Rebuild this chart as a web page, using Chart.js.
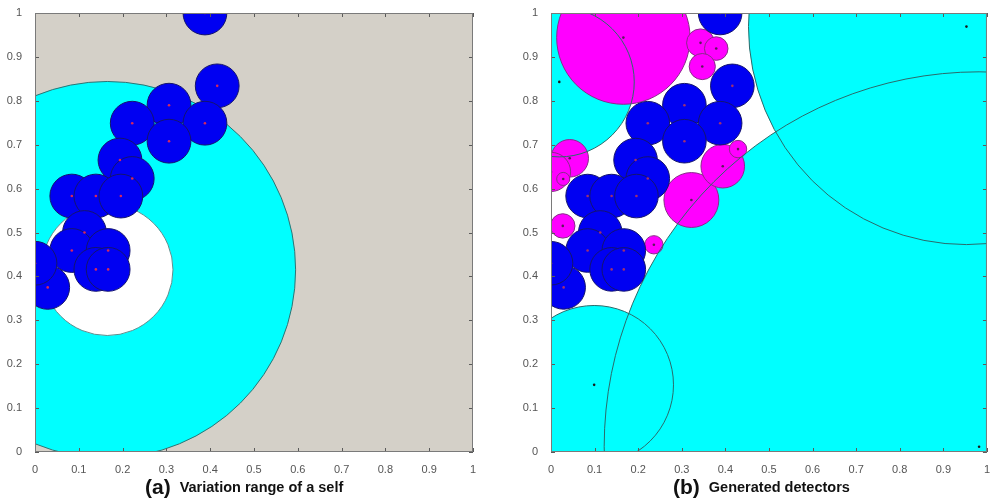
<!DOCTYPE html>
<html>
<head>
<meta charset="utf-8">
<script src="https://cdn.jsdelivr.net/npm/chart.js@4.4.1/dist/chart.umd.min.js"></script>
<style>
  body { margin: 0; background: #fff; width: 993px; height: 500px; position: relative; overflow: hidden;
         font-family: 'Liberation Sans', Arial, sans-serif; }
  .wrap { position: absolute; top: 0; height: 480px; }
  #wrapA { left: 0; width: 500px; }
  #wrapB { left: 500px; width: 493px; }
  .cap { position: absolute; top: 475px; font-weight: bold; font-size: 14.5px; color: #111; white-space: nowrap; }
  .cap b { font-size: 21px; margin-right: 9px; vertical-align: -2px; }
</style>
</head>
<body>
<div class="wrap" id="wrapA"><canvas id="chartA"></canvas></div>
<div class="wrap" id="wrapB"><canvas id="chartB"></canvas></div>
<div class="cap" style="left:145px"><b>(a)</b>Variation range of a self</div>
<div class="cap" style="left:673px"><b>(b)</b>Generated detectors</div>
<script>
// axis ticks (both panels)
const tickValues = [0, 0.1, 0.2, 0.3, 0.4, 0.5, 0.6, 0.7, 0.8, 0.9, 1];
const tickLabels = ['0', '0.1', '0.2', '0.3', '0.4', '0.5', '0.6', '0.7', '0.8', '0.9', '1'];

// self samples (blue), same in both panels
const selfX = [0.388, 0.416, 0.306, 0.222, 0.388, 0.306, 0.194, 0.222, 0.084, 0.139, 0.196, 0.113, 0.084, 0.167, 0.139, 0.167, 0.029, 0.0];
const selfY = [1.0, 0.834, 0.79, 0.749, 0.749, 0.708, 0.665, 0.623, 0.583, 0.583, 0.583, 0.50, 0.459, 0.459, 0.416, 0.416, 0.375, 0.43];
const selfR = selfX.map(() => 0.05);

// (a) variation range of one self: outer and inner radius
const rangeX = [0.165];
const rangeY = [0.415];
const rangeOuterR = [0.43];
const rangeInnerR = [0.15];

// (b) large detectors (cyan)
const coverX = [0.019, 0.099, 0.953, 0.982];
const coverY = [0.843, 0.153, 0.969, 0.012];
const coverR = [0.172, 0.182, 0.5, 0.86];

// (b) small detectors (magenta)
const smallX = [0.166, 0.343, 0.379, 0.347, 0.043, 0.0, 0.028, 0.027, 0.236, 0.322, 0.394, 0.429];
const smallY = [0.944, 0.932, 0.919, 0.878, 0.669, 0.638, 0.622, 0.515, 0.472, 0.574, 0.651, 0.69];
const smallR = [0.153, 0.032, 0.027, 0.03, 0.043, 0.045, 0.015, 0.028, 0.021, 0.063, 0.05, 0.02];

const FONT = "'Liberation Sans', Arial, sans-serif";

// radius in data units -> pixels via the x scale
const pxRadius = ctx => {
    const s = ctx.chart.scales.x;
    return Math.abs(s.getPixelForValue(ctx.raw.r) - s.getPixelForValue(0));
};

const points = (xs, ys, rs) => xs.map((x, i) => ({ x: x, y: ys[i], r: rs ? rs[i] : 0 }));

const circles = (xs, ys, rs, fill, stroke, order) => ({
    data: points(xs, ys, rs),
    pointRadius: pxRadius,
    pointHoverRadius: pxRadius,
    backgroundColor: fill,
    borderColor: stroke,
    borderWidth: stroke === 'transparent' ? 0 : 1,
    order: order,
    clip: 0,
});

const dots = (xs, ys, color, order) => ({
    data: points(xs, ys),
    pointRadius: 1.3,
    backgroundColor: color,
    borderWidth: 0,
    order: order,
    clip: 0,
});

const framePlugin = {
    id: 'frame',
    beforeDatasetsDraw(chart, args, opts) {
        const a = chart.chartArea;
        const c = chart.ctx;
        c.save();
        c.fillStyle = opts.bg;
        c.fillRect(a.left, a.top, a.right - a.left, a.bottom - a.top);
        c.restore();
    },
    afterDatasetsDraw(chart) {
        const a = chart.chartArea;
        const c = chart.ctx;
        const xs = chart.scales.x;
        const ys = chart.scales.y;
        c.save();
        c.strokeStyle = '#5a5a5a';
        c.lineWidth = 1;
        c.beginPath();
        xs.ticks.forEach(t => {
            const px = Math.round(xs.getPixelForValue(t.value)) + 0.5;
            c.moveTo(px, a.bottom); c.lineTo(px, a.bottom - 4);
            c.moveTo(px, a.top); c.lineTo(px, a.top + 4);
        });
        ys.ticks.forEach(t => {
            const py = Math.round(ys.getPixelForValue(t.value)) + 0.5;
            c.moveTo(a.left, py); c.lineTo(a.left + 4, py);
            c.moveTo(a.right, py); c.lineTo(a.right - 4, py);
        });
        c.stroke();
        c.strokeStyle = '#7a7a7a';
        c.strokeRect(a.left + 0.5, a.top + 0.5, a.right - a.left - 1, a.bottom - a.top - 1);
        c.restore();
    },
};

const axis = (isX, size) => ({
    type: 'linear',
    min: 0,
    max: 1,
    afterBuildTicks: s => { s.ticks = tickValues.map(v => ({ value: v })); },
    afterFit: s => { if (isX) s.height = size; else s.width = size; },
    ticks: {
        callback: (v, i) => tickLabels[i],
        color: '#555',
        font: { size: 11, family: FONT },
        padding: isX ? 3 : 5,
        maxRotation: 0,
        autoSkip: false,
    },
    grid: { display: false },
    border: { display: false },
});

const makeChart = (id, yWidth, padRight, bg, datasets) => new Chart(document.getElementById(id), {
    type: 'scatter',
    data: { datasets: datasets },
    options: {
        responsive: true,
        maintainAspectRatio: false,
        animation: false,
        events: [],
        layout: { padding: { top: 13, right: padRight, left: 0, bottom: 0 } },
        scales: { x: axis(true, 28), y: axis(false, yWidth) },
        plugins: { legend: { display: false }, tooltip: { enabled: false }, frame: { bg: bg } },
    },
    plugins: [framePlugin],
});

// (a) variation range of a self
makeChart('chartA', 35, 27, '#d4d0c8', [
    circles(rangeX, rangeY, rangeOuterR, '#00ffff', '#2f7373', 9),
    circles(rangeX, rangeY, rangeInnerR, '#ffffff', '#5f8f8f', 8),
    circles(selfX, selfY, selfR, '#0000f2', '#14146e', 2),
    dots(selfX, selfY, '#d8285a', 1),
]);

// (b) generated detectors
makeChart('chartB', 51, 3, '#ffffff', [
    circles(coverX, coverY, coverR, '#00ffff', 'transparent', 9),
    circles(smallX, smallY, smallR, '#ff00ff', '#8a2a8a', 8),
    circles(coverX, coverY, coverR, 'transparent', '#2b6b6b', 7),
    circles(selfX, selfY, selfR, '#0000f2', '#14146e', 3),
    dots(coverX, coverY, '#1a1a1a', 2),
    dots(smallX, smallY, '#5a1a5a', 2),
    dots(selfX, selfY, '#a0306e', 1),
]);
</script>
</body>
</html>
